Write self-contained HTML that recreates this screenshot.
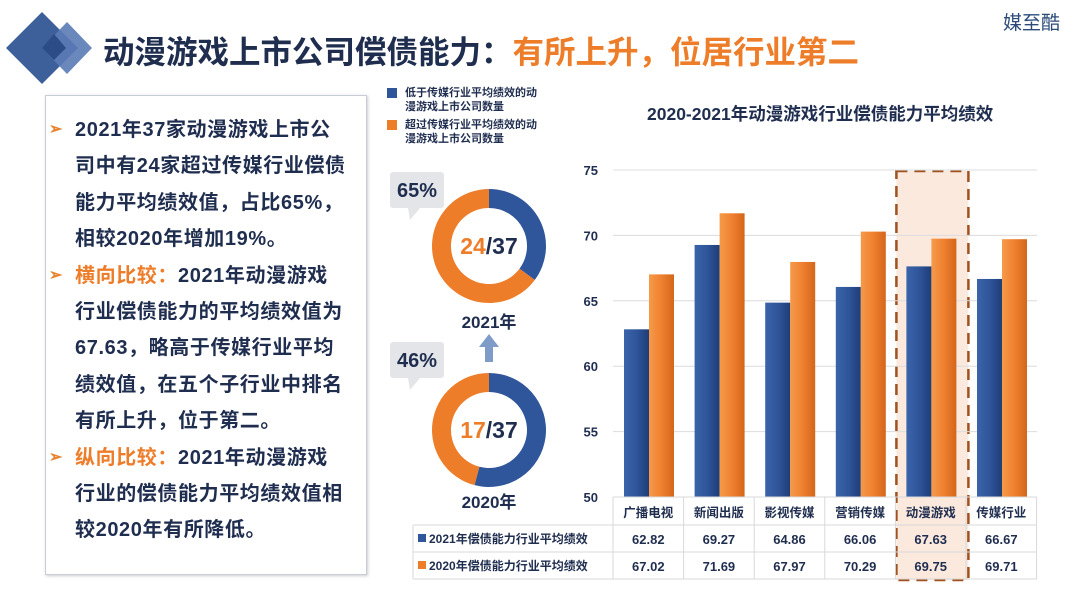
<!DOCTYPE html>
<html><head><meta charset="utf-8">
<style>
body{margin:0;width:1080px;height:610px;background:#fff;overflow:hidden;position:relative;font-family:"Liberation Sans","Noto Sans CJK SC",sans-serif;}
.abs{position:absolute;}
.txt{left:75px;top:112px;font-size:20px;font-weight:bold;color:#1f2d4f;line-height:36.4px;letter-spacing:0.6px;}
.txt div{white-space:nowrap;position:relative;}
.txt .ar{position:absolute;left:-26px;color:#e8822e;font-size:16px;}
.or{color:#ee7d2a;}
</style></head><body>
<div class="abs" style="left:0;top:0;">
<svg width="100" height="90"><polygon points="42,12 78,48 42,84 6,48" fill="#3d5f9a"/><polygon points="67,22 92,48 67,74 42,48" fill="#5a7bb5" opacity="0.9"/><polygon points="54,34 66,48 54,60 42,48" fill="#2c4c88"/></svg></div>
<div class="abs" style="left:103px;top:27px;font-size:31.5px;font-weight:bold;color:#1f2d4f;white-space:nowrap;">动漫游戏上市公司偿债能力：<span class="or">有所上升，位居行业第二</span></div>
<div class="abs" style="left:1003px;top:8px;font-size:19px;color:#2c4a7a;">媒至酷</div>
<div class="abs" style="left:45px;top:95px;width:320px;height:478px;border:1px solid #c8ccd6;box-shadow:1px 1px 3px #ccc;"></div>
<div class="abs txt">
<div><span class="ar">➢</span>2021年37家动漫游戏上市公</div>
<div>司中有24家超过传媒行业偿债</div>
<div>能力平均绩效值，占比65%，</div>
<div>相较2020年增加19%。</div>
<div><span class="ar">➢</span><span class="or">横向比较：</span>2021年动漫游戏</div>
<div>行业偿债能力的平均绩效值为</div>
<div>67.63，略高于传媒行业平均</div>
<div>绩效值，在五个子行业中排名</div>
<div>有所上升，位于第二。</div>
<div><span class="ar">➢</span><span class="or">纵向比较：</span>2021年动漫游戏</div>
<div>行业的偿债能力平均绩效值相</div>
<div>较2020年有所降低。</div>
</div>
<div class="abs" style="left:385px;top:86px;font-size:11px;font-weight:bold;color:#1f2d4f;line-height:14px;">
<div style="position:relative;padding-left:20px;"><span style="position:absolute;left:2px;top:2px;width:10px;height:10px;background:#2f559a"></span>低于传媒行业平均绩效的动<br>漫游戏上市公司数量</div>
<div style="position:relative;padding-left:20px;margin-top:4px;"><span style="position:absolute;left:2px;top:2px;width:10px;height:10px;background:#ee7d2a"></span>超过传媒行业平均绩效的动<br>漫游戏上市公司数量</div>
</div>
<svg class="abs" style="left:380px;top:160px" width="180" height="360">
<rect x="10" y="12" width="54" height="36" rx="3" fill="#e4e5e8"/><polygon points="28,48 40,48 30,60" fill="#e4e5e8"/>
<text x="37" y="37" text-anchor="middle" font-size="20" font-weight="bold" fill="#1f2d4f">65%</text>
<rect x="10" y="182" width="54" height="36" rx="3" fill="#e4e5e8"/><polygon points="28,218 40,218 30,230" fill="#e4e5e8"/>
<text x="37" y="207" text-anchor="middle" font-size="20" font-weight="bold" fill="#1f2d4f">46%</text>
<g id="d1"></g><g id="d2"></g>
<text x="109" y="94" text-anchor="middle" font-size="23" font-weight="bold" fill="#1f2d4f"><tspan fill="#ee7d2a">24</tspan>/37</text>
<text x="109" y="278" text-anchor="middle" font-size="23" font-weight="bold" fill="#1f2d4f"><tspan fill="#ee7d2a">17</tspan>/37</text>
<text x="109" y="168" text-anchor="middle" font-size="17" font-weight="bold" fill="#1f2d4f">2021年</text>
<text x="109" y="348" text-anchor="middle" font-size="17" font-weight="bold" fill="#1f2d4f">2020年</text>
<rect x="105" y="186" width="8" height="16" fill="#7f9cc9"/><polygon points="99,187 109,174 119,187" fill="#7f9cc9"/>
</svg>
<div class="abs" style="left:647px;top:101px;font-size:17.5px;font-weight:bold;color:#1f2d4f;white-space:nowrap;">2020-2021年动漫游戏行业偿债能力平均绩效</div>
<svg class="abs" style="left:0;top:0" width="1080" height="610" id="chart"></svg>
<script>
const categories=["广播电视","新闻出版","影视传媒","营销传媒","动漫游戏","传媒行业"];
const values2021=[62.82,69.27,64.86,66.06,67.63,66.67];
const values2020=[67.02,71.69,67.97,70.29,69.75,69.71];
const yTicks=[50,55,60,65,70,75];
const donutAbove=[24,17];
const donutTotal=[37,37];
const NS="http://www.w3.org/2000/svg";
function mk(p,t,a){const e=document.createElementNS(NS,t);for(const k in a)e.setAttribute(k,a[k]);p.appendChild(e);return e;}
function arc(cx,cy,R,r,a0,a1){const f=(a,rr)=>[cx+rr*Math.sin(a),cy-rr*Math.cos(a)];const l=(a1-a0)>Math.PI?1:0;const [x0,y0]=f(a0,R),[x1,y1]=f(a1,R),[x2,y2]=f(a1,r),[x3,y3]=f(a0,r);return `M${x0},${y0}A${R},${R} 0 ${l} 1 ${x1},${y1}L${x2},${y2}A${r},${r} 0 ${l} 0 ${x3},${y3}Z`;}
[["d1",86],["d2",270]].forEach(([id,cy],i)=>{const g=document.getElementById(id);const fr=donutAbove[i]/donutTotal[i];const a=fr*2*Math.PI;
const o=mk(g,'path',{d:arc(109,cy,57,38,2*Math.PI-a,2*Math.PI-0.0001),fill:'#ee7d2a'});


const b=mk(g,'path',{d:arc(109,cy,57,38,0,2*Math.PI-a),fill:'#2f559a'});

});
const svg=document.getElementById('chart');
const x0=613,cw=70.6,yTop=170,yBot=497;
const y=v=>yBot-(v-50)/(75-50)*(yBot-yTop);
const defs=mk(svg,'defs',{});
defs.innerHTML='<linearGradient id="gb" x1="0" x2="1"><stop offset="0" stop-color="#3a64aa"/><stop offset="0.5" stop-color="#2f559a"/><stop offset="1" stop-color="#1f3d78"/></linearGradient><linearGradient id="go" x1="0" x2="1"><stop offset="0" stop-color="#f59a4a"/><stop offset="0.5" stop-color="#ef8030"/><stop offset="1" stop-color="#d4661a"/></linearGradient>';
const hl=mk(svg,'rect',{x:x0+4*cw+1,y:171,width:72,height:409,fill:'#fbe9de',stroke:'#a0521e','stroke-width':2.5,'stroke-dasharray':'11,7'});


yTicks.forEach(t=>{if(t>50){const l=mk(svg,'line',{x1:x0,x2:1037,y1:y(t),y2:y(t),stroke:'#dcdcdc'});}
const tx=mk(svg,'text',{x:598,y:y(t)+5,'text-anchor':'end','font-size':13,'font-weight':'bold',fill:'#1f2d4f'});tx.textContent=t;

});
categories.forEach((c,i)=>{const cx=x0+i*cw;
const b=mk(svg,'rect',{x:cx+11,y:y(values2021[i]),width:25,height:yBot-y(values2021[i]),fill:'url(#gb)'});


const o=mk(svg,'rect',{x:cx+36,y:y(values2020[i]),width:25,height:yBot-y(values2020[i]),fill:'url(#go)'});


const t=mk(svg,'text',{x:cx+cw/2,y:517,'text-anchor':'middle','font-size':12.5,'font-weight':'bold',fill:'#1f2d4f'});t.textContent=c;


[values2021,values2020].forEach((arr,j)=>{const v=mk(svg,'text',{x:cx+cw/2,y:544+j*27,'text-anchor':'middle','font-size':13,'font-weight':'bold',fill:'#1f2d4f'});v.textContent=arr[i].toFixed(2);

});});
for(let i=0;i<=6;i++){const l=mk(svg,'line',{x1:x0+i*cw,x2:x0+i*cw,y1:497,y2:579,stroke:'#d8d8d8'});}
[[x0,497],[413,525],[413,552],[413,579]].forEach(([a,b])=>{const l=mk(svg,'line',{x1:a,x2:1037,y1:b,y2:b,stroke:'#d8d8d8'});});
const l0=mk(svg,'line',{x1:413,x2:413,y1:525,y2:579,stroke:'#d8d8d8'});
[["2021年偿债能力行业平均绩效","#2f559a"],["2020年偿债能力行业平均绩效","#ee7d2a"]].forEach(([s,c],j)=>{
const r=mk(svg,'rect',{x:418,y:534+j*27,width:8,height:8,fill:c});
const t=mk(svg,'text',{x:429,y:543+j*27,'font-size':12,'font-weight':'bold',fill:'#1f2d4f'});t.textContent=s;

});
</script>
</body></html>
